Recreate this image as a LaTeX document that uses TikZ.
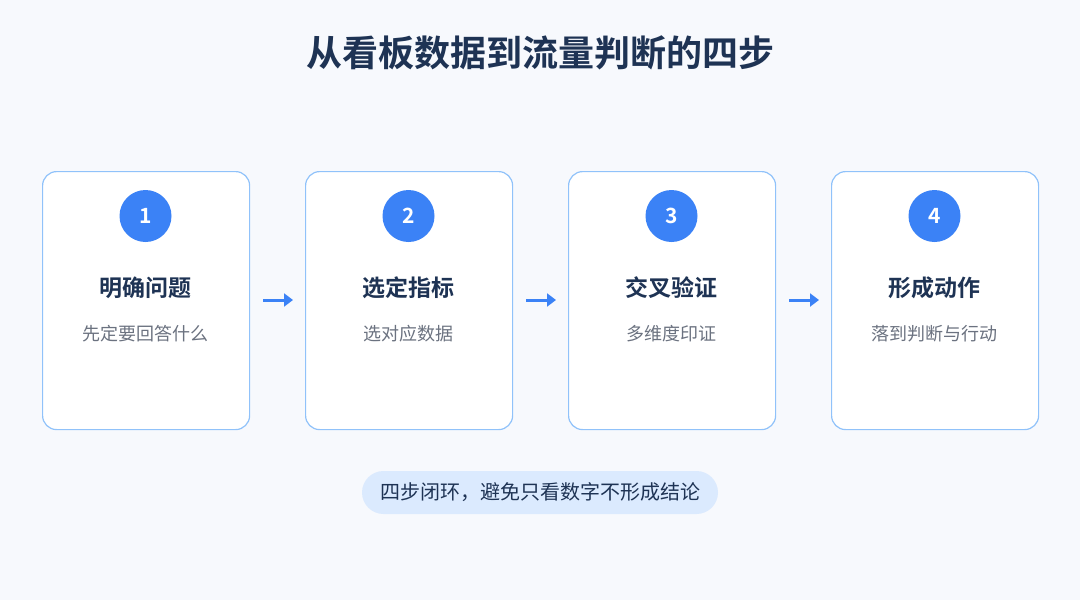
\documentclass[tikz,border=0pt]{standalone}
\usepackage{fontspec}
\setmainfont{Noto Sans CJK SC}[BoldFont={Noto Sans CJK SC Bold}]
\usetikzlibrary{arrows.meta}
\definecolor{bg}{HTML}{F7F9FD}
\definecolor{navy}{HTML}{1E3354}
\definecolor{cardb}{HTML}{90C2FA}
\definecolor{blue}{HTML}{3B82F6}
\definecolor{gray}{HTML}{6B7280}
\definecolor{pill}{HTML}{DBEAFE}
\begin{document}
\begin{tikzpicture}[x=1pt,y=-1pt,
 card/.style={draw=cardb,line width=1.2pt,fill=white,rounded corners=14pt,minimum width=207pt,minimum height=258pt,anchor=north west},
 num/.style={circle,fill=blue,minimum size=52pt,inner sep=0pt,text=white,font=\fontsize{21}{24}\selectfont\bfseries},
 ttl/.style={text=navy,font=\fontsize{23}{26}\selectfont\bfseries},
 sub/.style={text=gray,font=\fontsize{18}{21}\selectfont},
 arr/.style={draw=blue,line width=3pt,-{Triangle[length=9pt,width=13pt]}}]
\fill[bg] (0,0) rectangle (1080,600);
\useasboundingbox (0,0) rectangle (1080,600);
\node[text=navy,font=\fontsize{36}{42}\selectfont\bfseries] (title) at (540,53) {从看板数据到流量判断的四步};
\foreach \i/\x/\t/\s in {1/42/明确问题/先定要回答什么,2/305/选定指标/选对应数据,3/568/交叉验证/多维度印证,4/831/形成动作/落到判断与行动}{
 \node[card] (c\i) at (\x,171) {};
 \node[num] (n\i) at (\x+103.5,216) {\i};
 \node[ttl] (t\i) at (\x+103.5,288) {\t};
 \node[sub] (s\i) at (\x+103.5,334) {\s};
}
\foreach \a/\b in {1/2,2/3,3/4}{
 \coordinate (p\a) at ([yshift=-(300-171)*1pt]c\a.north east);
 \coordinate (q\a) at ([yshift=-(300-171)*1pt]c\b.north west);
 \draw[arr] ([xshift=13pt]p\a) -- ([xshift=-12pt]q\a);
}
\node[fill=pill,rounded corners=21.5pt,minimum width=356pt,minimum height=43pt,text=navy,font=\fontsize{20}{23}\selectfont] (pill) at (540,492.5) {四步闭环，避免只看数字不形成结论};
\end{tikzpicture}
\end{document}
